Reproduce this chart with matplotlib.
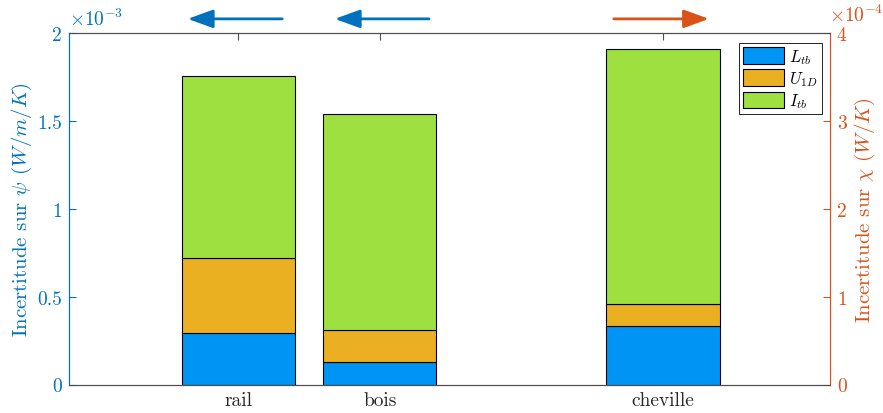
import matplotlib
matplotlib.use("Agg")
import matplotlib.pyplot as plt
import numpy as np
from matplotlib.ticker import FuncFormatter, FixedLocator

plt.rcParams['font.family'] = ['cmr10', 'DejaVu Serif']
plt.rcParams['mathtext.fontset'] = 'cm'
plt.rcParams['axes.unicode_minus'] = False
plt.rcParams['axes.formatter.use_mathtext'] = True

# ---- data ----
categories = ['rail', 'bois', 'cheville']
positions = [1, 2, 4]
series_names = [r'$L_{tb}$', r'$U_{1D}$', r'$I_{tb}$']
colors = ['#0095F5', '#EBB021', '#9DE040']
# left axis (psi, W/m/K): rail, bois
psi_L = [0.291e-3, 0.126e-3]
psi_U = [0.427e-3, 0.182e-3]
psi_I = [1.036e-3, 1.229e-3]
# right axis (chi, W/K): cheville
chi_L = [0.666e-4]
chi_U = [0.250e-4]
chi_I = [2.904e-4]

left_ticks = [0, 0.5e-3, 1e-3, 1.5e-3, 2e-3]
right_ticks = [0, 1e-4, 2e-4, 3e-4, 4e-4]

blue_axis = '#0072BD'
orange_axis = '#D95319'
gray = '#4d4d4d'

fig = plt.figure(figsize=(8.83, 4.14), dpi=100)
ax = fig.add_axes([0.0781, 0.0688, 0.8619, 0.8491])
ax2 = ax.twinx()

w = 0.8
xl = positions[:2]
b = np.zeros(2)
handles = []
for vals, c, n in zip([psi_L, psi_U, psi_I], colors, series_names):
    h = ax.bar(xl, vals, w, bottom=b, color=c, edgecolor='black', linewidth=0.8, label=n, zorder=2)
    handles.append(h)
    b = b + np.array(vals)

xr = positions[2:]
b2 = np.zeros(1)
for vals, c in zip([chi_L, chi_U, chi_I], colors):
    ax2.bar(xr, vals, w, bottom=b2, color=c, edgecolor='black', linewidth=0.8, zorder=2)
    b2 = b2 + np.array(vals)

ax.set_xlim(-0.196, 5.18)
ax.set_ylim(0, 2e-3)
ax2.set_ylim(0, 4e-4)

ax.set_xticks(positions)
ax.set_xticklabels(categories, fontsize=14)
ax.yaxis.set_major_locator(FixedLocator(left_ticks))
ax2.yaxis.set_major_locator(FixedLocator(right_ticks))
ax.yaxis.set_major_formatter(FuncFormatter(lambda v, p: '%g' % round(v * 1e3, 6)))
ax2.yaxis.set_major_formatter(FuncFormatter(lambda v, p: '%g' % round(v * 1e4, 6)))

ax.tick_params(axis='x', direction='in', top=True, bottom=True, length=5, width=0.8, color=gray,
               labelcolor='#262626', pad=5)
ax.tick_params(axis='y', direction='in', left=True, right=False, length=5, width=0.8, color=blue_axis,
               labelcolor=blue_axis, labelsize=14, pad=5)
ax2.tick_params(axis='y', direction='in', right=True, left=False, length=5, width=0.8, color=orange_axis,
                labelcolor=orange_axis, labelsize=14, pad=5)

for a in (ax, ax2):
    a.spines['top'].set_color(gray)
    a.spines['bottom'].set_color(gray)
    a.spines['left'].set_color(blue_axis)
    a.spines['right'].set_color(orange_axis)
    for s in a.spines.values():
        s.set_linewidth(0.8)

ax.set_ylabel(r'Incertitude sur $\psi$ $(W/m/K)$', color=blue_axis, fontsize=15, labelpad=2)
ax2.set_ylabel(r'Incertitude sur $\chi$ $(W/K)$', color=orange_axis, fontsize=15, rotation=90, labelpad=4)

ax.text(0.0, 1.012, r'$\times10^{-3}$', transform=ax.transAxes, color=blue_axis, fontsize=14,
        ha='left', va='bottom')
ax2.text(0.999, 1.022, r'$\times10^{-4}$', transform=ax2.transAxes, color=orange_axis, fontsize=14,
         ha='left', va='bottom')

leg = ax2.legend(handles, series_names, loc='upper right', bbox_to_anchor=(0.9895, 0.9716),
                 borderaxespad=0, fancybox=False, edgecolor='black', fontsize=12,
                 handlelength=2.5, handleheight=1.15, labelspacing=0.2, handletextpad=0.3,
                 borderpad=0.25, framealpha=1)
leg.get_frame().set_linewidth(0.6)

# direction arrows above the plot
arrow_specs = [((0.3228, 0.952), (0.2095, 0.952), blue_axis),
               ((0.489, 0.952), (0.376, 0.952), blue_axis),
               ((0.692, 0.952), (0.806, 0.952), orange_axis)]
for tail, head, c in arrow_specs:
    fig.add_artist(matplotlib.patches.FancyArrowPatch(tail, head, transform=fig.transFigure,
                   arrowstyle='-|>,head_length=1.1,head_width=0.4', mutation_scale=14,
                   color=c, linewidth=2.0))

fig.savefig('out.png', dpi=100)
